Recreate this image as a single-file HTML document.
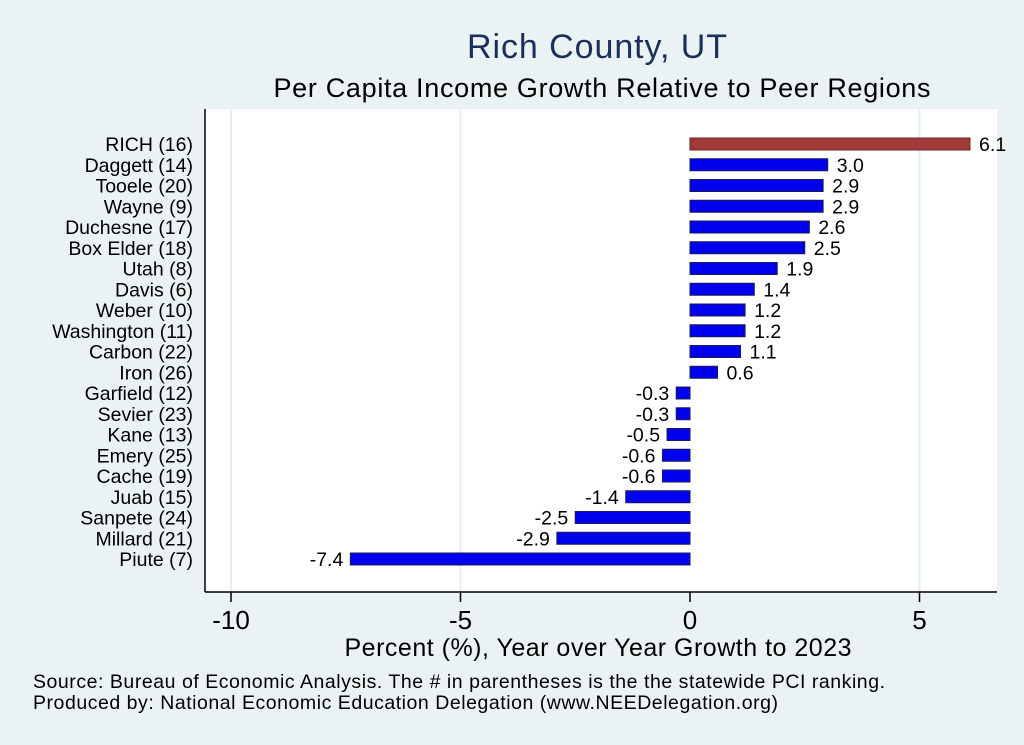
<!DOCTYPE html>
<html><head><meta charset="utf-8"><style>
body{margin:0;background:#eaf2f3;font-family:"Liberation Sans",sans-serif;}
</style></head><body>
<svg id="c" width="1024" height="745" xmlns="http://www.w3.org/2000/svg" style="display:block">
<rect width="1024" height="745" fill="#eaf2f3"/>
<text x="597" y="58" font-size="34" fill="#1a2f5a" text-anchor="middle" textLength="260">Rich County, UT</text>
<text x="602" y="97" font-size="27" fill="#000" text-anchor="middle" textLength="657">Per Capita Income Growth Relative to Peer Regions</text>
<rect x="205" y="109" width="792" height="483" fill="#fff"/>
<g id="grid"></g><g id="bars"></g><g id="axes"></g>
<text x="598" y="656" font-size="25" text-anchor="middle" textLength="507">Percent (%), Year over Year Growth to 2023</text>
<text x="33" y="688" font-size="19.5" textLength="852">Source: Bureau of Economic Analysis. The # in parentheses is the the statewide PCI ranking.</text>
<text x="33" y="709" font-size="19.5" textLength="745">Produced by: National Economic Education Delegation (www.NEEDelegation.org)</text>
</svg>
<script>
const categories=["RICH (16)","Daggett (14)","Tooele (20)","Wayne  (9)","Duchesne (17)","Box Elder (18)","Utah  (8)","Davis  (6)","Weber (10)","Washington (11)","Carbon (22)","Iron (26)","Garfield (12)","Sevier (23)","Kane (13)","Emery (25)","Cache (19)","Juab (15)","Sanpete (24)","Millard (21)","Piute  (7)"];
const values=[6.1,3.0,2.9,2.9,2.6,2.5,1.9,1.4,1.2,1.2,1.1,0.6,-0.3,-0.3,-0.5,-0.6,-0.6,-1.4,-2.5,-2.9,-7.4];
const ticks=[-10,-5,0,5];
const tickLabels=["-10","-5","0","5"];
const NS="http://www.w3.org/2000/svg";
const x=v=>690+v*45.9;
const y=i=>144+i*20.75;
function mk(p,t,a){const e=document.createElementNS(NS,t);for(const k in a)e.setAttribute(k,a[k]);document.getElementById(p).appendChild(e);return e;}
ticks.forEach((t,i)=>{
 if(t!==0){const g=mk('grid','line',{x1:x(t),x2:x(t),y1:109,y2:592,stroke:'#e3eef0','stroke-width':2});
 
 }
 const tk=mk('axes','line',{x1:x(t),x2:x(t),y1:592,y2:602,stroke:'#000','stroke-width':1.5});
 
 
 const tl=mk('axes','text',{x:x(t),y:629,'font-size':26,'text-anchor':'middle'});
 tl.textContent=tickLabels[i];
 
 
});
categories.forEach((c,i)=>{
 const v=values[i],x0=Math.min(x(0),x(v)),w=Math.abs(x(v)-x(0));
 const b=mk('bars','rect',{x:x0,y:y(i)-6,width:w,height:12,fill:i===0?'#a33a3a':'#0000ee',stroke:i===0?'#6b2424':'#1a1a55','stroke-width':1});
 
 
 const vl=mk('bars','text',{x:v>=0?x(v)+9:x(v)-7,y:y(i)+7,'font-size':19.5,'text-anchor':v>=0?'start':'end'});
 vl.textContent=v.toFixed(1);
 
 
 const cl=mk('axes','text',{x:193,y:y(i)+7,'font-size':19.5,'text-anchor':'end'});
 cl.textContent=c;
 
 
});
const ay=mk('axes','line',{x1:205,x2:205,y1:109,y2:592,stroke:'#000','stroke-width':1.5});


const ax=mk('axes','line',{x1:205,x2:997,y1:592,y2:592,stroke:'#000','stroke-width':1.5});


</script>
</body></html>
